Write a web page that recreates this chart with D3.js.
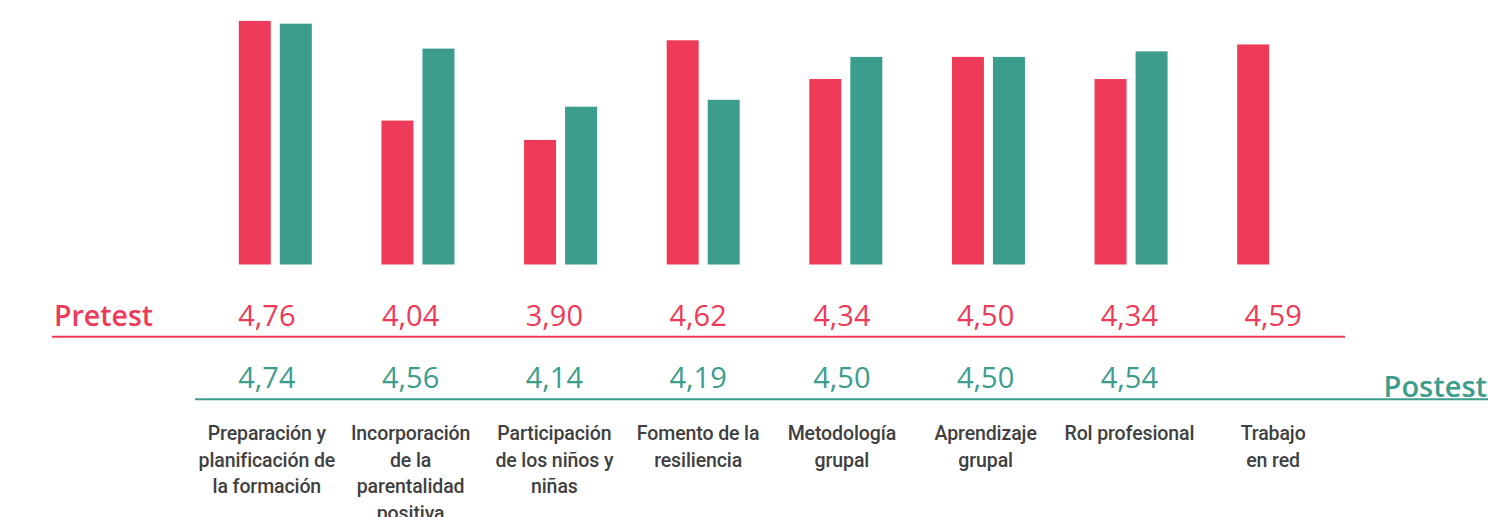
<!DOCTYPE html>
<html>
<head>
<meta charset="utf-8">
<script src="https://cdn.jsdelivr.net/npm/d3@7"></script>
<style>
  html, body { margin: 0; padding: 0; background: #fff; }
  svg { display: block; }
</style>
</head>
<body>
<div id="chart"></div>
<script>
(function() {
  const width = 1488, height = 517;

  // data
  const categories = [
    ['Preparación y', 'planificación de', 'la formación'],
    ['Incorporación', 'de la', 'parentalidad', 'positiva'],
    ['Participación', 'de los niños y', 'niñas'],
    ['Fomento de la', 'resiliencia'],
    ['Metodología', 'grupal'],
    ['Aprendizaje', 'grupal'],
    ['Rol profesional'],
    ['Trabajo', 'en red']
  ];
  const pretest = [4.76, 4.04, 3.90, 4.62, 4.34, 4.50, 4.34, 4.59];
  const postest = [4.74, 4.56, 4.14, 4.19, 4.50, 4.50, 4.54, null];
  const seriesNames = ['Pretest', 'Postest'];

  const red = '#ee3a59', teal = '#3d9d8c', grey = '#404040';

  const svg = d3.select('#chart')
    .append('svg')
      .attr('width', width)
      .attr('height', height);

  const idx = d3.range(categories.length);

  // bars
  const x0 = d3.scaleBand()
    .domain(idx)
    .range([204, 1345]);

  const x1 = d3.scaleBand()
    .domain(seriesNames)
    .range([x0.bandwidth() / 2 - 36.5, x0.bandwidth() / 2 + 36.5])
    .paddingInner(0.22);

  const y = d3.scaleLinear()
    .domain([3, 5])
    .range([264.5, -12.3]);

  const rows = idx.map(i => ({ i, values: [
    { key: 'Pretest', v: pretest[i] },
    { key: 'Postest', v: postest[i] }
  ].filter(d => d.v != null) }));

  const groups = svg.selectAll('.group')
    .data(rows)
    .enter().append('g')
      .attr('class', 'group')
      .attr('transform', d => `translate(${x0(d.i)},0)`);

  groups.selectAll('rect')
    .data(d => d.values)
    .enter().append('rect')
      .attr('x', d => x1(d.key))
      .attr('width', x1.bandwidth())
      .attr('y', d => y(d.v))
      .attr('height', d => y(3) - y(d.v))
      .attr('fill', d => d.key === 'Pretest' ? red : teal);

  // table below
  const xt = d3.scaleBand()
    .domain(idx)
    .range([195, 1345]);

  const fmt = v => d3.format('.2f')(v).replace('.', ',');
  const font = "'Open Sans', 'Noto Sans', sans-serif";

  svg.append('text')
    .attr('x', 54)
    .attr('y', 326)
    .attr('fill', red)
    .style('font-family', font)
    .style('font-size', '28.5px')
    .style('font-weight', 600)
    .text('Pretest');

  svg.append('line')
    .attr('x1', 52).attr('x2', 1345)
    .attr('y1', 336.7).attr('y2', 336.7)
    .attr('stroke', red)
    .attr('stroke-width', 2);

  svg.selectAll('.pre-val')
    .data(idx)
    .enter().append('text')
      .attr('class', 'pre-val')
      .attr('x', i => xt(i) + xt.bandwidth() / 2)
      .attr('y', 326)
      .attr('text-anchor', 'middle')
      .attr('fill', red)
      .style('font-family', font)
      .style('font-size', '29px')
      .text(i => fmt(pretest[i]));

  svg.selectAll('.post-val')
    .data(idx.filter(i => postest[i] != null))
    .enter().append('text')
      .attr('class', 'post-val')
      .attr('x', i => xt(i) + xt.bandwidth() / 2)
      .attr('y', 388)
      .attr('text-anchor', 'middle')
      .attr('fill', teal)
      .style('font-family', font)
      .style('font-size', '29px')
      .text(i => fmt(postest[i]));

  svg.append('line')
    .attr('x1', 195).attr('x2', width)
    .attr('y1', 399.3).attr('y2', 399.3)
    .attr('stroke', teal)
    .attr('stroke-width', 2);

  svg.append('text')
    .attr('x', 1487)
    .attr('y', 397)
    .attr('text-anchor', 'end')
    .attr('fill', teal)
    .style('font-family', font)
    .style('font-size', '29px')
    .style('font-weight', 600)
    .text('Postest');

  // category labels
  const labels = svg.selectAll('.cat')
    .data(idx)
    .enter().append('text')
      .attr('class', 'cat')
      .attr('text-anchor', 'middle')
      .attr('fill', grey)
      .style('font-family', "Roboto, sans-serif")
      .style('font-size', '19.5px')
      .style('font-weight', 500)
      .style('letter-spacing', '-0.1px');

  labels.selectAll('tspan')
    .data(i => categories[i].map(t => ({ i, t })))
    .enter().append('tspan')
      .attr('x', d => xt(d.i) + xt.bandwidth() / 2)
      .attr('y', (d, k) => 440 + k * 26.7)
      .text(d => d.t);
})();
</script>
</body>
</html>
